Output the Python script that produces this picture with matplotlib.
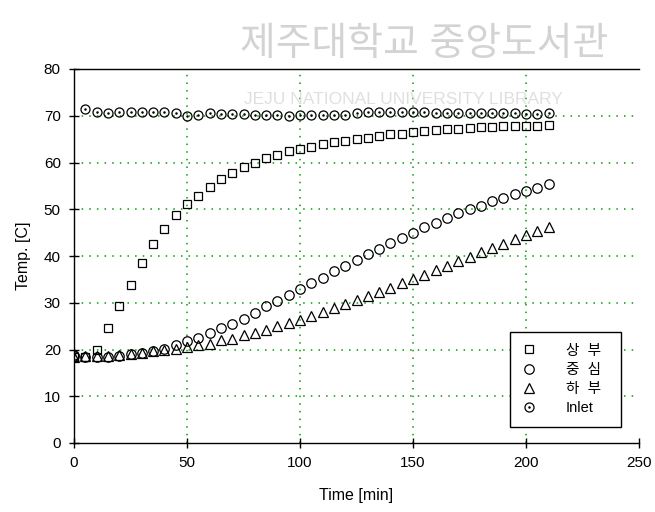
import matplotlib
matplotlib.use("Agg")
import matplotlib.pyplot as plt
from matplotlib.legend_handler import HandlerTuple

plt.rcParams['font.family'] = ['Liberation Sans', 'Noto Sans CJK KR', 'DejaVu Sans']

time_min = list(range(0, 215, 5))

top = [18.3, 18.4, 20.0, 24.7, 29.4, 33.9, 38.6, 42.5, 45.7, 48.7,
       51.1, 52.8, 54.8, 56.5, 57.8, 59.0, 60.0, 60.9, 61.7, 62.4,
       62.9, 63.4, 63.9, 64.3, 64.7, 65.0, 65.3, 65.6, 66.0, 66.0,
       66.5, 66.7, 66.9, 67.1, 67.2, 67.4, 67.5, 67.7, 67.8, 67.8,
       67.9, 67.9, 68.1]

middle = [18.6, 18.5, 18.4, 18.3, 18.6, 19.0, 19.3, 19.7, 20.2, 20.9,
          21.8, 22.5, 23.5, 24.6, 25.5, 26.6, 27.9, 29.2, 30.4, 31.7,
          32.9, 34.2, 35.4, 36.8, 37.9, 39.2, 40.4, 41.6, 42.8, 43.9,
          45.0, 46.1, 47.1, 48.1, 49.1, 50.0, 50.8, 51.7, 52.4, 53.2,
          53.9, 54.5, 55.3]

bottom = [18.3, 18.6, 18.6, 18.6, 18.8, 19.0, 19.3, 19.7, 20.0, 20.2,
          20.5, 20.9, 21.2, 22.0, 22.3, 23.1, 23.6, 24.2, 25.0, 25.7,
          26.4, 27.1, 28.0, 28.8, 29.7, 30.5, 31.4, 32.2, 33.2, 34.2,
          35.1, 36.0, 36.9, 37.9, 38.9, 39.8, 40.8, 41.7, 42.6, 43.6,
          44.4, 45.3, 46.1]

inlet = [18.9, 71.4, 70.9, 70.6, 70.7, 70.7, 70.8, 70.7, 70.7, 70.5,
         69.9, 70.2, 70.5, 70.4, 70.3, 70.4, 70.2, 70.2, 70.2, 70.0,
         70.2, 70.2, 70.2, 70.1, 70.2, 70.5, 70.8, 70.9, 70.9, 70.8,
         70.7, 70.7, 70.6, 70.5, 70.5, 70.5, 70.5, 70.5, 70.5, 70.6,
         70.4, 70.4, 70.5]

labels = ['상  부', '중  심', '하  부', 'Inlet']
x_ticks = [0, 50, 100, 150, 200, 250]
y_ticks = [0, 10, 20, 30, 40, 50, 60, 70, 80]

fig = plt.figure(figsize=(6.55, 5.12), dpi=100)
ax = fig.add_axes([74/655, (512-443)/512, 565/655, 374/512])

ms = 6.5
kw = dict(linestyle='none', markerfacecolor='none', markeredgecolor='black', markeredgewidth=0.9)
h1, = ax.plot(time_min, top, marker='s', markersize=ms - 0.5, **kw)
h2, = ax.plot(time_min, middle, marker='o', markersize=ms + 0.3, **kw)
h3, = ax.plot(time_min, bottom, marker='^', markersize=ms, **kw)
h4a, = ax.plot(time_min, inlet, marker='o', markersize=ms, **kw)
h4b, = ax.plot(time_min, inlet, marker='o', markersize=1.8, linestyle='none',
               color='black', markeredgewidth=0)

ax.set_xlim(0, 250)
ax.set_ylim(0, 80)
ax.set_xticks(x_ticks)
ax.set_yticks(y_ticks)
ax.tick_params(direction='inout', length=7, width=1, labelsize=11, colors='black', pad=6)

for v in [50, 100, 150, 200]:
    ax.axvline(v, color='#00a000', linestyle=(0, (1, 4)), linewidth=1.1, zorder=0)
for v in [10, 20, 30, 40, 50, 60, 70]:
    ax.axhline(v, color='#00a000', linestyle=(0, (1, 4)), linewidth=1.1, zorder=0)

ax.spines['right'].set_visible(False)
for s in ['top', 'left', 'bottom']:
    ax.spines[s].set_linewidth(1.0)
    ax.spines[s].set_color('black')

ax.set_xlabel('Time [min]', fontsize=11.5, labelpad=13)
ax.set_ylabel('Temp. [C]', fontsize=11.5, labelpad=9)

leg = ax.legend([h1, h2, h3, (h4a, h4b)], labels,
                handler_map={tuple: HandlerTuple(ndivide=1, pad=0)},
                loc='lower left', bbox_to_anchor=(0.772, 0.044, 0.196, 0.254),
                mode='expand', fancybox=False, framealpha=1, edgecolor='black',
                fontsize=10.5, handlelength=1.0, handletextpad=2.0,
                borderpad=0.8, labelspacing=0.35, borderaxespad=0)
leg.get_frame().set_linewidth(1.0)

# library watermark
fig.text(0.367, 0.912, '제주대학교 중앙도서관', fontsize=28, color='#c8c8c8',
         alpha=0.8, ha='left', va='center', fontweight='medium')
fig.text(0.372, 0.805, 'JEJU NATIONAL UNIVERSITY LIBRARY', fontsize=12.5,
         color='#d8d8d8', alpha=0.8, ha='left', va='center')

fig.savefig('out.png', dpi=100)
